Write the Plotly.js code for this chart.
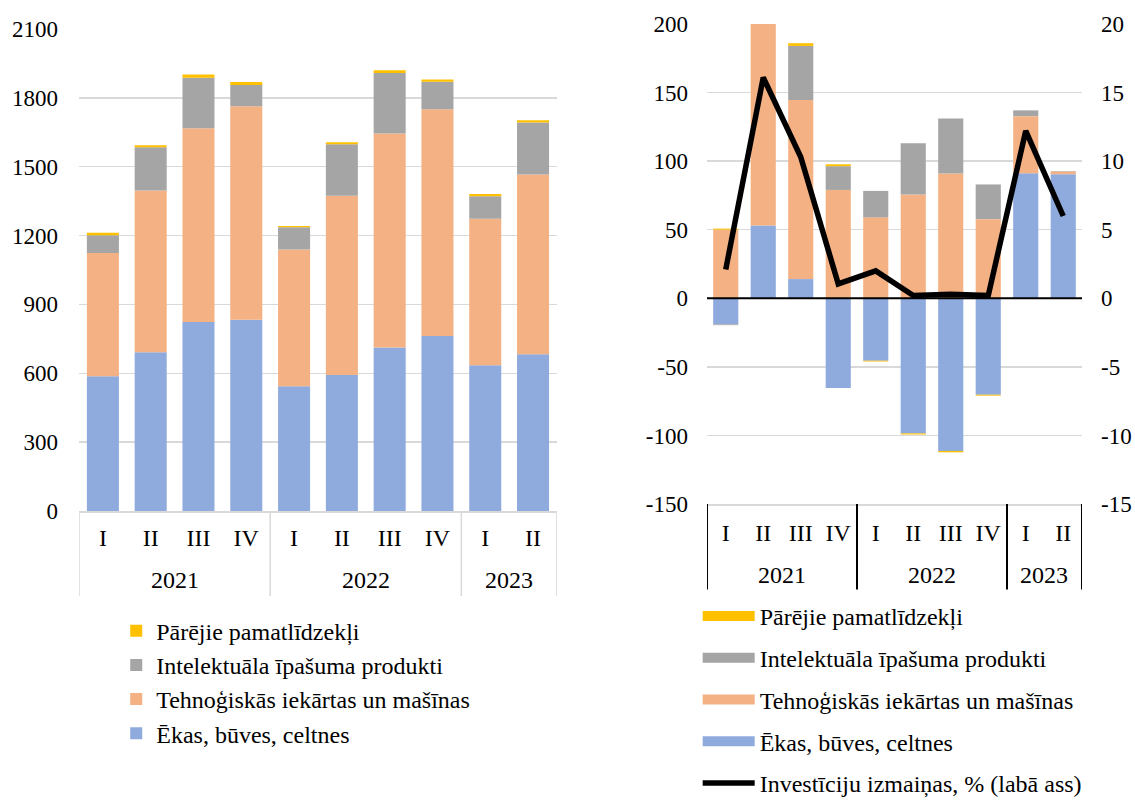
<!DOCTYPE html>
<html>
<head>
<meta charset="utf-8">
<script src="https://cdn.plot.ly/plotly-3.0.1.min.js"></script>
<style>
  html, body { margin: 0; padding: 0; background: #fff; }
  #chart { width: 1135px; height: 805px; }
</style>
</head>
<body>
<div id="chart"></div>
<script>
// Quarter and year labels for the two-level category axis
const quarters = ['I', 'II', 'III', 'IV', 'I', 'II', 'III', 'IV', 'I', 'II'];
const years = ['2021', '2021', '2021', '2021', '2022', '2022', '2022', '2022', '2023', '2023'];

// Series names
const seriesOther = 'Pārējie pamatlīdzekļi';
const seriesIntellectual = 'Intelektuāla īpašuma produkti';
const seriesMachinery = 'Tehnoģiskās iekārtas un mašīnas';
const seriesBuildings = 'Ēkas, būves, celtnes';
const seriesChange = 'Investīciju izmaiņas, % (labā ass)';

// Investment levels by asset type (left panel)
const levelBuildings = [587, 692, 823, 833, 543, 593, 712, 762, 635, 683];
const levelMachinery = [537, 704, 844, 930, 596, 781, 933, 988, 638, 783];
const levelIntellectual = [77, 189, 221, 93, 97, 224, 263, 120, 98, 227];
const levelOther = [11, 9, 14, 13, 6, 9, 12, 10, 10, 9];

// Year-on-year changes by asset type (right panel, left axis)
const changeBuildings = [-19, 53, 14, -65.5, -45.5, -98.5, -111.3, -70.3, 91.2, 90.5];
const changeMachinery = [50, 150, 130.5, 79, 59, 75.7, 91, 57.7, 41.6, 2];
const changeIntellectual = [-0.6, 16, 39.5, 17.3, 19.3, 37.3, 40, 25.3, 4.2, 0.3];
const changeOther = [0.8, 2, 2, 1.4, -0.6, -0.8, -1, -0.7, -0.3, 0];

// Total investment change, % (right axis)
const changePct = [2.1, 16.1, 10.3, 1.05, 2.0, 0.2, 0.3, 0.2, 12.2, 6.0];

// Axis tick values
const levelTicks = [0, 300, 600, 900, 1200, 1500, 1800, 2100];
const changeTicks = [-150, -100, -50, 0, 50, 100, 150, 200];
const pctTicks = [-15, -10, -5, 0, 5, 10, 15, 20];

const colBuildings = '#8FAADC';
const colMachinery = '#F4B183';
const colIntellectual = '#A5A5A5';
const colOther = '#FFC000';
const gridCol = '#D9D9D9';
const serif = 'Liberation Serif';

// category positions along the x axes
const pos = quarters.map((q, i) => i);
const noValues = quarters.map(() => null);

function levelBar(name, vals, color) {
  return {
    type: 'bar', name: name, x: pos, y: vals,
    xaxis: 'x', yaxis: 'y', legend: 'legend',
    marker: { color: color, line: { width: 0 } }, hoverinfo: 'y'
  };
}
function changeBar(name, vals, color) {
  return {
    type: 'bar', name: name, x: pos, y: vals,
    xaxis: 'x2', yaxis: 'y2', showlegend: false,
    marker: { color: color, line: { width: 0 } }, hoverinfo: 'y'
  };
}
// Legend keys for the right panel (drawn as thick strokes)
function changeKey(name, color, width) {
  return {
    type: 'scatter', mode: 'lines', name: name, x: pos, y: noValues,
    xaxis: 'x2', yaxis: 'y2', legend: 'legend2', legendgroup: 'R' + name,
    line: { color: color, width: width }, hoverinfo: 'skip'
  };
}

const data = [
  levelBar(seriesBuildings, levelBuildings, colBuildings),
  levelBar(seriesMachinery, levelMachinery, colMachinery),
  levelBar(seriesIntellectual, levelIntellectual, colIntellectual),
  levelBar(seriesOther, levelOther, colOther),

  changeBar(seriesBuildings, changeBuildings, colBuildings),
  changeBar(seriesMachinery, changeMachinery, colMachinery),
  changeBar(seriesIntellectual, changeIntellectual, colIntellectual),
  changeBar(seriesOther, changeOther, colOther),

  changeKey(seriesOther, colOther, 10),
  changeKey(seriesIntellectual, colIntellectual, 10),
  changeKey(seriesMachinery, colMachinery, 10),
  changeKey(seriesBuildings, colBuildings, 10),
  {
    type: 'scatter', mode: 'lines', name: seriesChange, x: pos, y: changePct,
    xaxis: 'x2', yaxis: 'y3', legend: 'legend2', legendgroup: 'Rline',
    line: { color: '#000000', width: 5.5 }, hoverinfo: 'y'
  }
];

// Year group labels and separators under each category axis
const yearGroups = [];
years.forEach((y, i) => {
  const last = yearGroups[yearGroups.length - 1];
  if (last && last.year === y) { last.end = i; } else { yearGroups.push({ year: y, start: i, end: i }); }
});

function groupDecor(xref, labelY, divTop, divBottom, divColor, divWidth) {
  const ann = yearGroups.map(g => ({
    xref: xref, yref: 'paper', x: (g.start + g.end) / 2, y: labelY,
    xanchor: 'center', yanchor: 'middle', showarrow: false, text: g.year,
    font: { family: serif, size: 24, color: '#000' }
  }));
  const bounds = [yearGroups[0].start - 0.5].concat(yearGroups.map(g => g.end + 0.5));
  const shp = bounds.map(b => ({
    type: 'line', xref: xref, yref: 'paper', x0: b, x1: b, y0: divTop, y1: divBottom,
    line: { color: divColor, width: divWidth }, layer: 'above'
  }));
  return { ann: ann, shp: shp };
}
const leftDecor = groupDecor('x', 0.2789, 0.3652, 0.2596, gridCol, 1.5);
const rightDecor = groupDecor('x2', 0.2857, 0.3739, 0.2677, '#000', 2);

const catFont = { family: serif, size: 24, color: '#000' };
const numFont = { family: serif, size: 23, color: '#000' };

const layout = {
  width: 1135, height: 805,
  margin: { l: 0, r: 0, t: 0, b: 0 },
  paper_bgcolor: '#fff', plot_bgcolor: '#fff',
  font: { family: serif, size: 24, color: '#000' },
  barmode: 'relative',
  bargap: 0.33,
  showlegend: true,
  xaxis: {
    domain: [0.0696, 0.4907], anchor: 'y', range: [-0.5, 9.5],
    tickmode: 'array', tickvals: pos, ticktext: quarters,
    showgrid: false, zeroline: false, showline: true, linecolor: gridCol, linewidth: 1.5,
    tickfont: catFont, ticks: '', ticklabelstandoff: 5, fixedrange: true
  },
  yaxis: {
    domain: [0.3652, 0.964], anchor: 'x', range: [0, 2100],
    tickmode: 'array', tickvals: levelTicks, ticktext: levelTicks.map(String),
    showgrid: true, gridcolor: gridCol, gridwidth: 1.5, zeroline: false,
    showline: false, ticks: '', ticklabelstandoff: 20, tickfont: numFont,
    fixedrange: true
  },
  xaxis2: {
    domain: [0.6229, 0.9533], anchor: 'y2', range: [-0.5, 9.5],
    tickmode: 'array', tickvals: pos, ticktext: quarters,
    showgrid: false, zeroline: false, showline: true, linecolor: gridCol, linewidth: 1.5,
    tickfont: catFont, ticks: '', ticklabelstandoff: 7, fixedrange: true
  },
  yaxis2: {
    domain: [0.3739, 0.9702], anchor: 'x2', range: [-150, 200],
    tickmode: 'array', tickvals: changeTicks, ticktext: changeTicks.map(String),
    showgrid: true, gridcolor: gridCol, gridwidth: 1.5, zeroline: false,
    showline: false, ticks: '', ticklabelstandoff: 18, tickfont: numFont,
    fixedrange: true
  },
  yaxis3: {
    overlaying: 'y2', anchor: 'x2', side: 'right', range: [-15, 20],
    tickmode: 'array', tickvals: pctTicks, ticktext: pctTicks.map(String),
    showgrid: false, zeroline: false, showline: false, ticks: '',
    ticklabelstandoff: 18, tickfont: numFont, fixedrange: true
  },
  legend: {
    x: 0.1024, y: 0.244, xanchor: 'left', yanchor: 'top',
    traceorder: 'reversed',
    font: { family: serif, size: 24, color: '#000' },
    bgcolor: 'rgba(0,0,0,0)', itemclick: false, itemdoubleclick: false
  },
  legend2: {
    x: 0.6147, y: 0, xanchor: 'left', yanchor: 'bottom',
    traceorder: 'grouped', tracegroupgap: 7.5, itemwidth: 52,
    font: { family: serif, size: 24, color: '#000' },
    bgcolor: 'rgba(0,0,0,0)', itemclick: false, itemdoubleclick: false
  },
  annotations: leftDecor.ann.concat(rightDecor.ann),
  shapes: leftDecor.shp.concat(rightDecor.shp, [
    // zero reference line of the change panel
    {
      type: 'line', xref: 'x2 domain', yref: 'y2', x0: 0, x1: 1, y0: 0, y1: 0,
      line: { color: '#000', width: 2 }, layer: 'above'
    }
  ])
};

Plotly.newPlot('chart', data, layout, { staticPlot: true, displayModeBar: false });
</script>
</body>
</html>
